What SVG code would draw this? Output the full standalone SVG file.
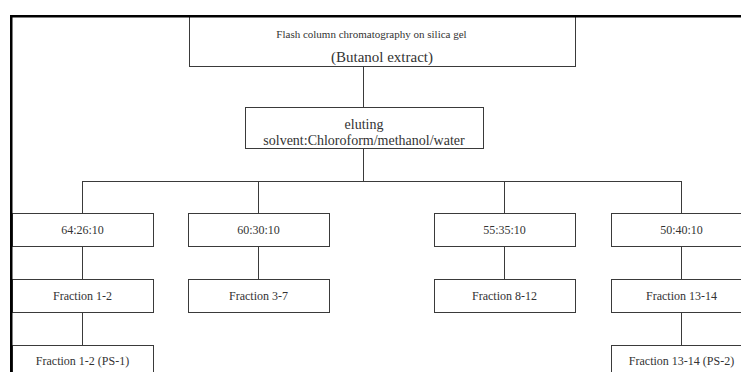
<svg xmlns="http://www.w3.org/2000/svg" width="741" height="372" viewBox="0 0 741 372">
<style>
.box{fill:#fff;stroke:#3a3a3a;stroke-width:1}
.t{fill:#333;text-anchor:middle}
.s12{font-size:12px}
.conn line{stroke:#3a3a3a;stroke-width:1}
.frame{stroke:#000;stroke-width:2.5;fill:none}
</style>
<rect width="741" height="372" fill="#fff"/>
<g id="connectors" class="conn">
<line x1="363.5" y1="66" x2="363.5" y2="107"/>
<line x1="363.5" y1="148" x2="363.5" y2="181"/>
<line x1="82.5" y1="181.5" x2="681.5" y2="181.5"/>
<line x1="82.5" y1="181" x2="82.5" y2="213"/>
<line x1="258.5" y1="181" x2="258.5" y2="213"/>
<line x1="504.5" y1="181" x2="504.5" y2="213"/>
<line x1="681.5" y1="181" x2="681.5" y2="213"/>
<line x1="82.5" y1="246" x2="82.5" y2="279"/>
<line x1="258.5" y1="246" x2="258.5" y2="279"/>
<line x1="504.5" y1="246" x2="504.5" y2="279"/>
<line x1="681.5" y1="246" x2="681.5" y2="279"/>
<line x1="82.5" y1="312" x2="82.5" y2="345"/>
<line x1="681.5" y1="312" x2="681.5" y2="345"/>
</g>
<g font-family="Liberation Serif, Times New Roman, serif">
<g id="n-top">
<rect class="box" x="189.5" y="16.5" width="386" height="50"/>
<text class="t" x="371.5" y="38" font-size="11">Flash column chromatography on silica gel</text>
<text class="t" x="382" y="62" font-size="15">(Butanol extract)</text>
</g>
<g id="n-eluting">
<rect class="box" x="245.5" y="107.5" width="238" height="41"/>
<text class="t" x="364" y="129" font-size="14">eluting</text>
<text class="t" x="364" y="145" font-size="14">solvent:Chloroform/methanol/water</text>
</g>
<g id="n-r1">
<rect class="box" x="12.5" y="213.5" width="141" height="33"/>
<text class="t s12" x="82.5" y="234">64:26:10</text>
</g>
<g id="n-r2">
<rect class="box" x="188.5" y="213.5" width="141" height="33"/>
<text class="t s12" x="258.5" y="234">60:30:10</text>
</g>
<g id="n-r3">
<rect class="box" x="434.5" y="213.5" width="141" height="33"/>
<text class="t s12" x="504.5" y="234">55:35:10</text>
</g>
<g id="n-r4">
<rect class="box" x="611.5" y="213.5" width="141" height="33"/>
<text class="t s12" x="681.5" y="234">50:40:10</text>
</g>
<g id="n-f12">
<rect class="box" x="12.5" y="279.5" width="141" height="33"/>
<text class="t s12" x="82.5" y="300">Fraction 1-2</text>
</g>
<g id="n-f37">
<rect class="box" x="188.5" y="279.5" width="141" height="33"/>
<text class="t s12" x="258.5" y="300">Fraction 3-7</text>
</g>
<g id="n-f812">
<rect class="box" x="434.5" y="279.5" width="141" height="33"/>
<text class="t s12" x="504.5" y="300">Fraction 8-12</text>
</g>
<g id="n-f1314">
<rect class="box" x="611.5" y="279.5" width="141" height="33"/>
<text class="t s12" x="681.5" y="300">Fraction 13-14</text>
</g>
<g id="n-ps1">
<rect class="box" x="12.5" y="345.5" width="141" height="40"/>
<text class="t s12" x="82.5" y="365">Fraction 1-2 (PS-1)</text>
</g>
<g id="n-ps2">
<rect class="box" x="611.5" y="345.5" width="141" height="40"/>
<text class="t s12" x="681.5" y="365">Fraction 13-14 (PS-2)</text>
</g>
</g>
<g id="frame">
<path class="frame" d="M11.25 372 V16.25 H741"/>
</g>
</svg>
